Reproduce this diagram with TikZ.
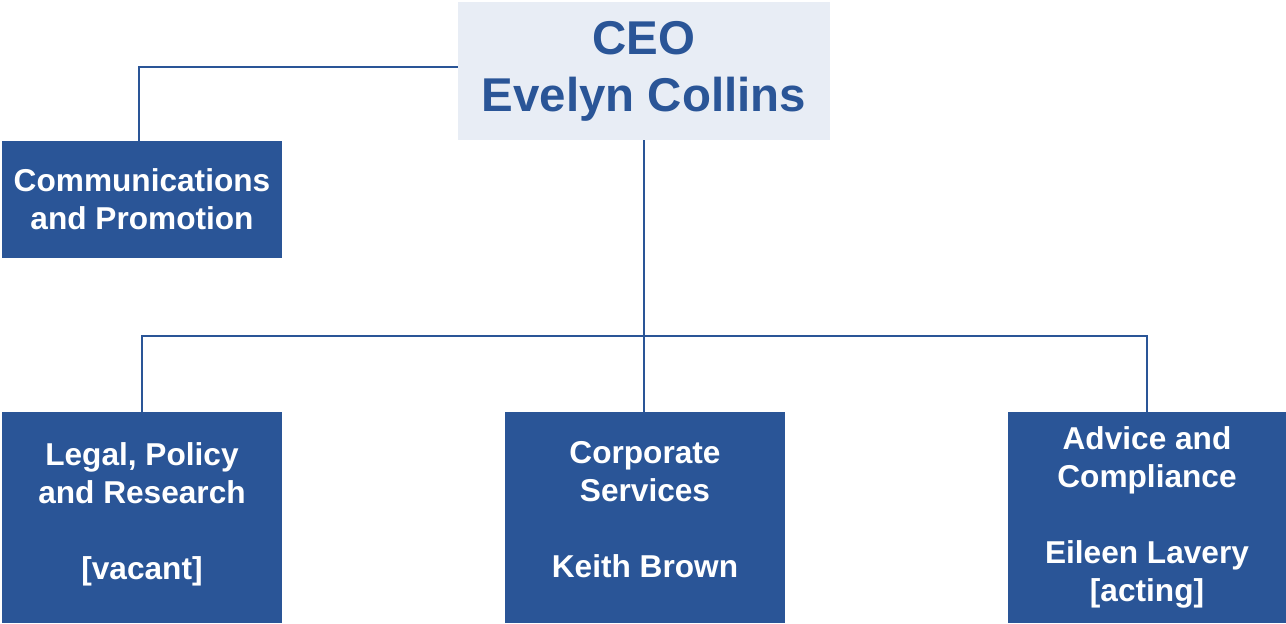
\documentclass[tikz,border=0pt]{standalone}
\usepackage{fontspec}
\setmainfont{Liberation Sans}
\usetikzlibrary{positioning}
\definecolor{orgblue}{HTML}{2A5597}
\definecolor{orgpale}{HTML}{E8EDF5}
\tikzset{
  unit/.style={rectangle, fill=orgblue, text=white, align=center,
    font=\fontsize{18}{21.6}\selectfont\bfseries, inner sep=0pt},
  link/.style={draw=orgblue, line width=1.2pt}
}
\begin{document}
\begin{tikzpicture}[x=0.02cm, y=-0.02cm]
\useasboundingbox (0,0) rectangle (1286,623);
% CEO
\node[rectangle, fill=orgpale, text=orgblue, align=center, inner sep=0pt,
  minimum width=372*0.02cm, minimum height=138*0.02cm,
  font=\fontsize{27}{32.4}\selectfont\bfseries] (ceo) at (644,71)
  {CEO\\Evelyn Collins};
% Communications
\node[unit, minimum width=280*0.02cm, minimum height=117*0.02cm] (comms) at (142,199.5)
  {Communications\\and Promotion};
% Directorates
\node[unit, minimum width=280*0.02cm, minimum height=211*0.02cm] (legal) at (142,517.5)
  {Legal, Policy\\and Research\\[21.6pt][vacant]\\[-14.6pt]\mbox{}};
\node[unit, minimum width=280*0.02cm, minimum height=211*0.02cm] (corp) at (645,517.5)
  {Corporate\\Services\\[21.6pt]Keith Brown\\[-12.6pt]\mbox{}};
\node[unit, minimum width=278*0.02cm, minimum height=211*0.02cm] (advice) at (1147,517.5)
  {Advice and\\Compliance\\[21.6pt]Eileen Lavery\\{[acting]}};
% Lines
\coordinate (bus) at (644,336);
\draw[link] ([yshift=4*0.02cm]ceo.west) -| ([xshift=-3*0.02cm]comms.north);
\draw[link] (ceo.south) -- (ceo.south |- corp.north);
\draw[link] (legal.north) |- (bus) -| (advice.north);
\end{tikzpicture}
\end{document}
